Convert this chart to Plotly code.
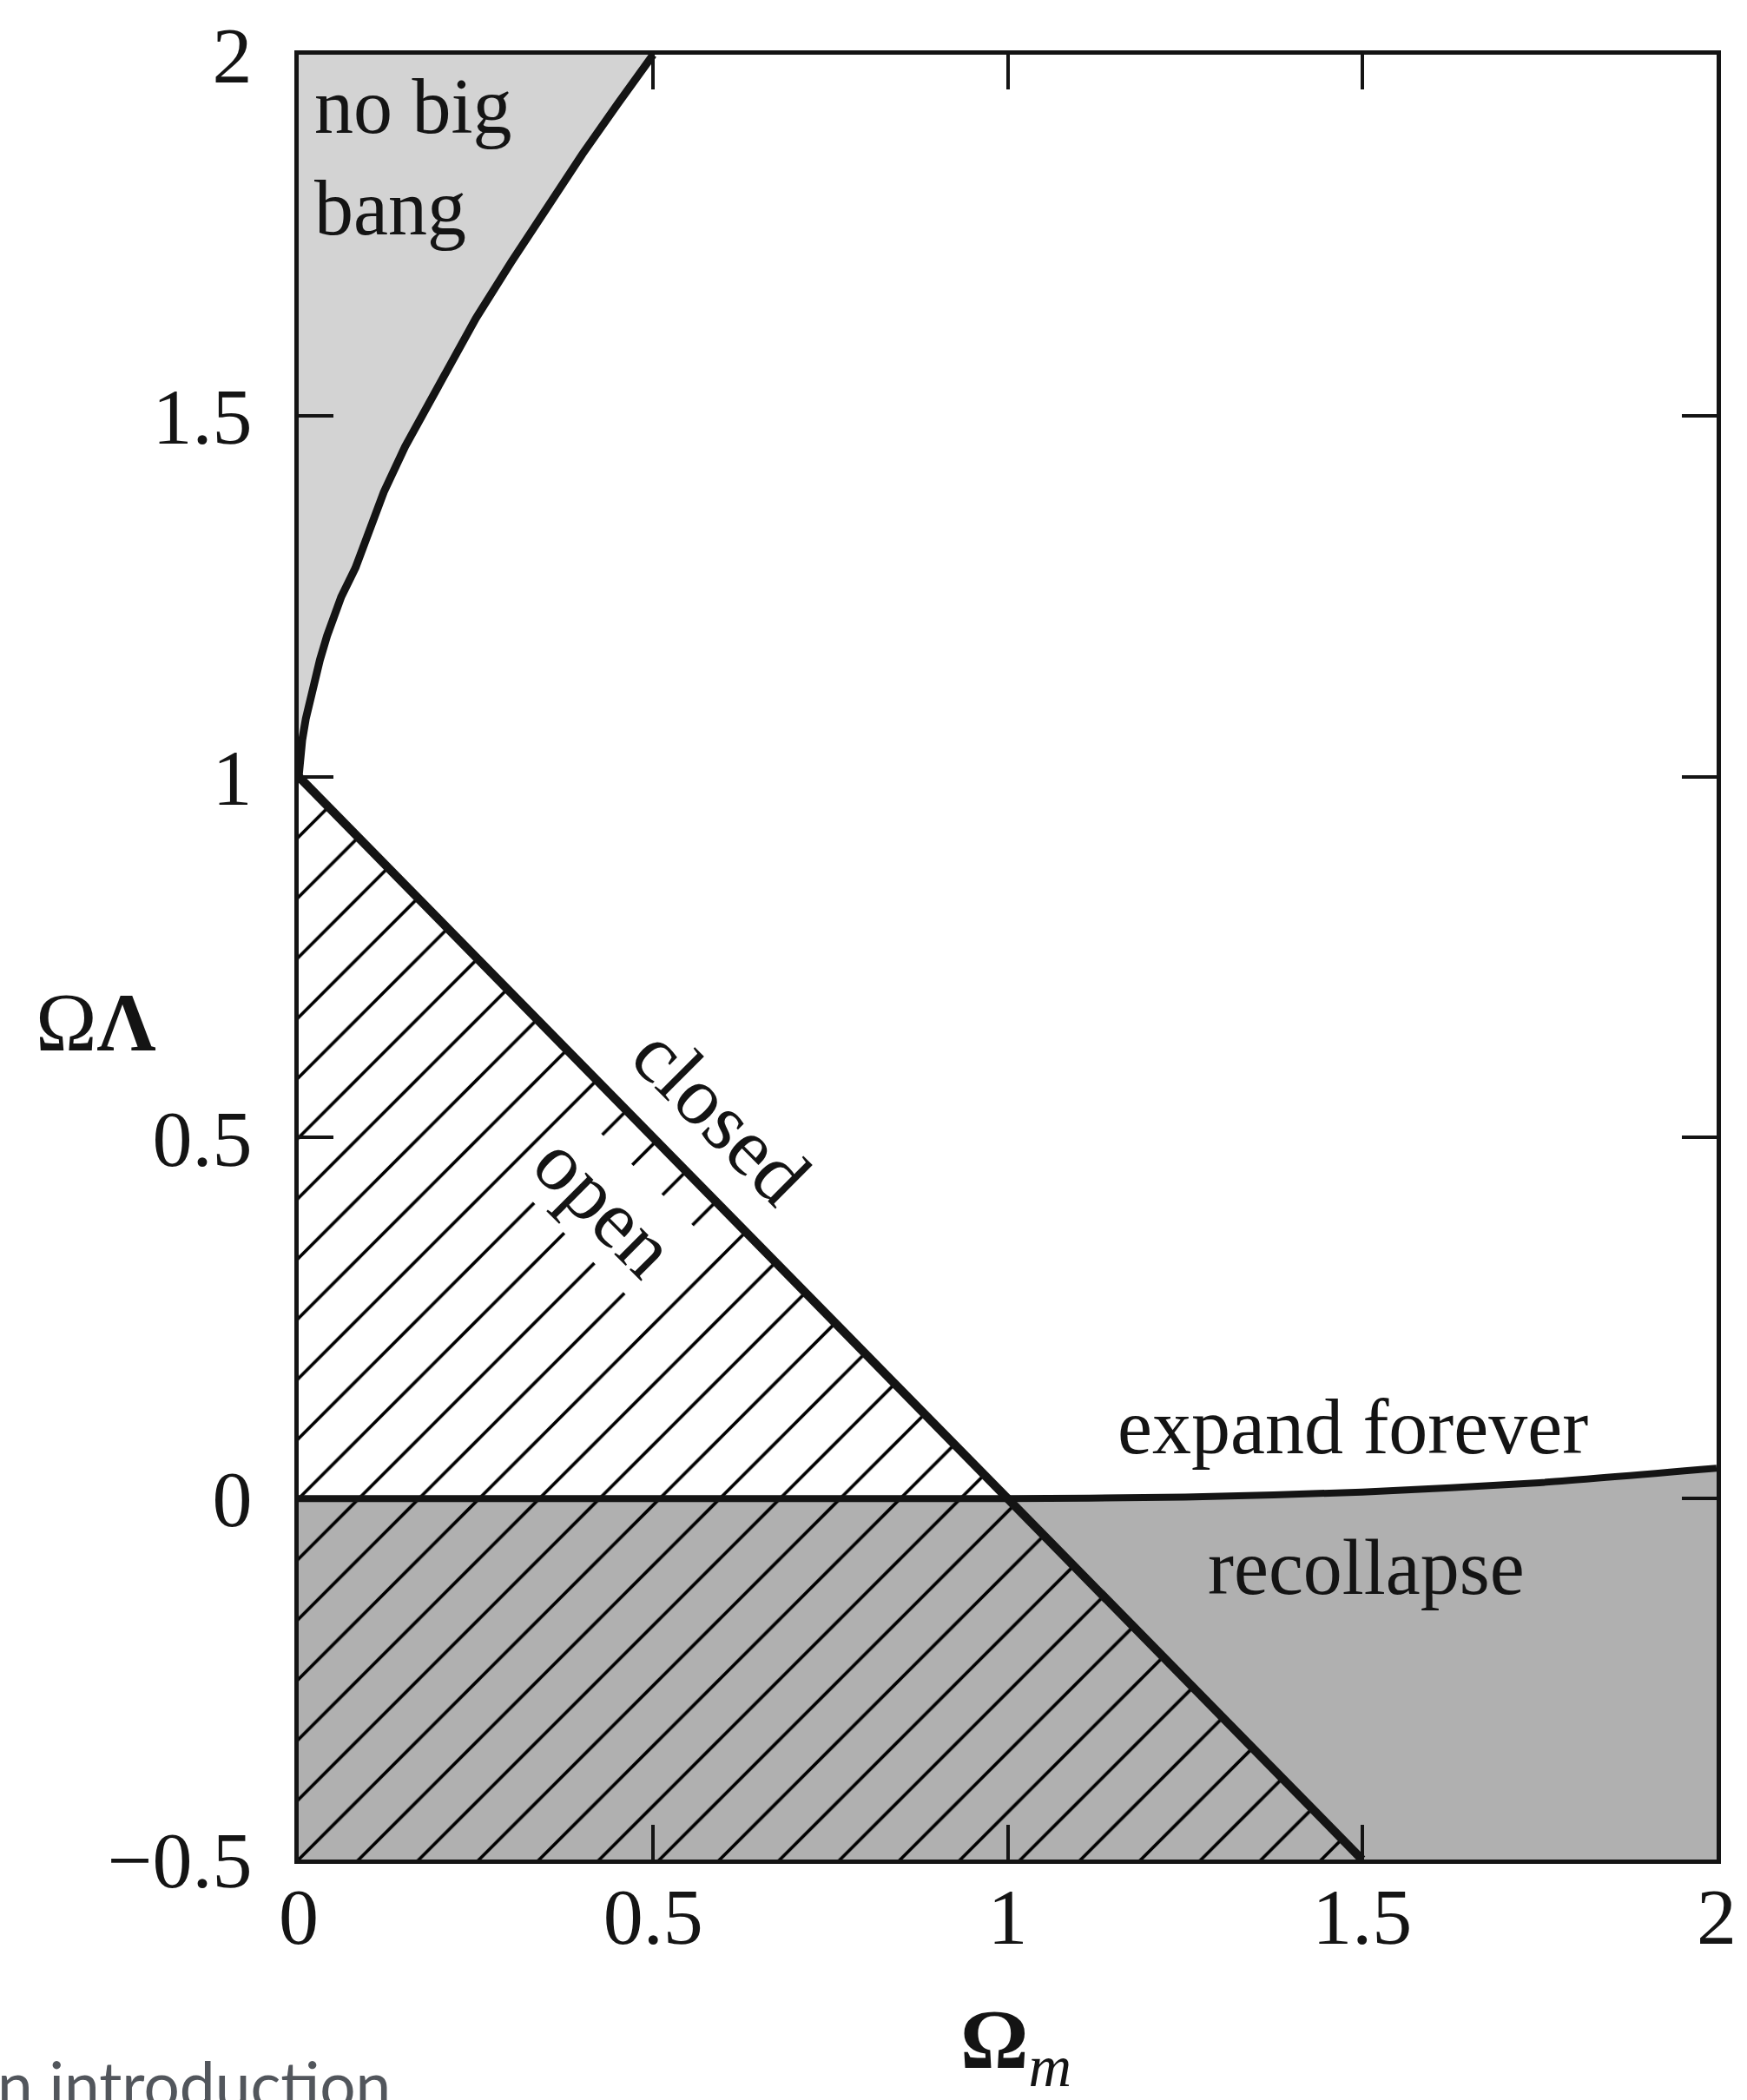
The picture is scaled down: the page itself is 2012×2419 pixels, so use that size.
import plotly.graph_objects as go

# ---- data ----
# boundary of the "no big bang" region (Omega_m, Omega_Lambda)
nobb_om = [0.000, 0.001, 0.002, 0.005, 0.010, 0.020, 0.030, 0.040, 0.060, 0.080,
           0.100, 0.120, 0.150, 0.200, 0.250, 0.300, 0.350, 0.400, 0.450, 0.500]
nobb_ol = [1.000, 1.017, 1.029, 1.051, 1.080, 1.124, 1.162, 1.195, 1.249, 1.289,
           1.344, 1.394, 1.457, 1.548, 1.635, 1.713, 1.790, 1.862, 1.932, 2.000]

# flat universe line: closed above, open below
flat_om = [0.0, 1.5]
flat_ol = [1.0, -0.5]

# expand forever / recollapse boundary
recol_om = [0.00, 1.00, 1.25, 1.50, 1.75, 2.00]
recol_ol = [0.000, 0.000, 0.002, 0.009, 0.022, 0.042]

# axis ticks
x_tickvals = [0, 0.5, 1, 1.5, 2]
x_ticktext = ["0", "0.5", "1", "1.5", "2"]
y_tickvals = [-0.5, 0, 0.5, 1, 1.5, 2]
y_ticktext = ["\u22120.5", "0", "0.5", "1", "1.5", "2"]

X_MIN, X_MAX = 0, 2
Y_MIN, Y_MAX = -0.5, 2

SERIF = "Liberation Serif, Times New Roman, serif"
INK = "#141414"

fig = go.Figure()

# recollapse region (grey halftone)
fig.add_trace(go.Scatter(
    x=[X_MIN] + recol_om + [X_MAX, X_MIN],
    y=[Y_MIN] + recol_ol + [Y_MIN, Y_MIN],
    mode="lines", fill="toself", fillcolor="#b0b0b0",
    line=dict(width=0), hoverinfo="skip", name="recollapse"))

# no big bang region (light grey halftone)
fig.add_trace(go.Scatter(
    x=nobb_om + [X_MIN, X_MIN],
    y=nobb_ol + [Y_MAX, nobb_ol[0]],
    mode="lines", fill="toself", fillcolor="#d3d3d3",
    line=dict(width=0), hoverinfo="skip", name="no big bang"))

# open region (hatched)
fig.add_trace(go.Scatter(
    x=[flat_om[0], flat_om[1], X_MIN, flat_om[0]],
    y=[flat_ol[0], flat_ol[1], Y_MIN, flat_ol[0]],
    mode="lines", fill="toself", fillcolor="rgba(0,0,0,0)",
    fillpattern=dict(shape="/", size=49, solidity=0.075, fgopacity=1,
                     fgcolor="#000000", bgcolor="rgba(0,0,0,0)"),
    line=dict(width=0), hoverinfo="skip", name="open"))

# boundary curves
fig.add_trace(go.Scatter(x=nobb_om, y=nobb_ol, mode="lines",
                         line=dict(color=INK, width=9), name="no big bang boundary"))
fig.add_trace(go.Scatter(x=recol_om, y=recol_ol, mode="lines",
                         line=dict(color=INK, width=8, shape="spline", smoothing=0.6),
                         name="recollapse boundary"))
fig.add_trace(go.Scatter(x=flat_om, y=flat_ol, mode="lines",
                         line=dict(color=INK, width=10), name="flat"))

label_font = dict(family=SERIF, size=90, color=INK)

annotations = [
    dict(x=0.02, y=1.99, text="no big<br>bang", xanchor="left", yanchor="top",
         align="left", showarrow=False, font=label_font),
    dict(x=0.596, y=0.530, text="closed", textangle=45, showarrow=False,
         font=dict(family=SERIF, size=95, color=INK)),
    dict(x=0.432, y=0.405, text="open", textangle=45, showarrow=False,
         bgcolor="white", borderpad=2,
         font=dict(family=SERIF, size=95, color=INK)),
    dict(x=1.487, y=0.10, text="expand forever", showarrow=False, font=label_font),
    dict(x=1.506, y=-0.095, text="recollapse", showarrow=False, font=label_font),
    # axis titles
    dict(xref="paper", yref="paper", x=(1174 - 344) / 1640, y=-(2356 - 2142) / 2079,
         xanchor="center", yanchor="middle",
         text="<b>\u03a9</b><sub><i>m</i></sub>", showarrow=False,
         font=dict(family=SERIF, size=98, color=INK)),
    dict(xref="paper", yref="paper", x=(110 - 344) / 1640, y=(2142 - 1178) / 2079,
         xanchor="center", yanchor="middle",
         text="\u03a9<b>\u039b</b>", showarrow=False,
         font=dict(family=SERIF, size=95, color=INK)),
    # cropped caption from the page below
    dict(xref="paper", yref="paper", x=(-6 - 344) / 1640, y=-(2446 - 2142) / 2079,
         xanchor="left", yanchor="bottom", text="n introduction", showarrow=False,
         font=dict(family="Lato, Open Sans, sans-serif", size=73, color="#52565c")),
]

axis_common = dict(
    showline=True, linewidth=5, linecolor=INK, mirror="ticks",
    ticks="inside", ticklen=40, tickwidth=4, tickcolor=INK,
    showgrid=False, zeroline=False,
    tickfont=dict(family=SERIF, size=92, color=INK),
)

fig.update_layout(
    width=2012, height=2419,
    margin=dict(l=344, r=28, t=63, b=277),
    plot_bgcolor="white", paper_bgcolor="white",
    showlegend=False,
    annotations=annotations,
    xaxis=dict(range=[X_MIN, X_MAX], tickvals=x_tickvals, ticktext=x_ticktext,
               ticklabelstandoff=-18, **axis_common),
    yaxis=dict(range=[Y_MIN, Y_MAX], tickvals=y_tickvals, ticktext=y_ticktext,
               ticklabelstandoff=30, **axis_common),
)

fig.write_html("out.html")
